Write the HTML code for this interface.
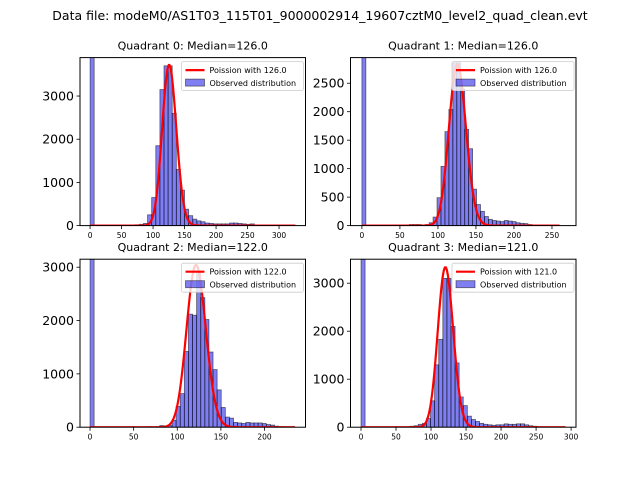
<!DOCTYPE html>
<html><head><meta charset="utf-8"><style>
body{margin:0;background:#fff;}
svg{display:block;font-family:"DejaVu Sans","Liberation Sans",sans-serif;}
</style></head><body>
<svg id="fig" width="640" height="480" viewBox="0 0 640 480" xmlns="http://www.w3.org/2000/svg">
<rect width="640" height="480" fill="#fff"/>
<text x="320" y="20" font-size="12.5" text-anchor="middle">Data file: modeM0/AS1T03_115T01_9000002914_19607cztM0_level2_quad_clean.evt</text>
</svg>
<script>
const titles = ["Quadrant 0: Median=126.0","Quadrant 1: Median=126.0","Quadrant 2: Median=122.0","Quadrant 3: Median=121.0"];
const lambdas = [126,126,122,121];
const peaks = [3720,2830,3040,3330];
const binMax = [326,260,235,292];
const xlims = [[-16,342],[-15,281.6],[-11.5,247],[-15,307]];
const ylims = [3890,2950,3150,3500];
const xticks = [[0,50,100,150,200,250,300],[0,50,100,150,200,250],[0,50,100,150,200],[0,50,100,150,200,250,300]];
const yticks = [[0,1000,2000,3000],[0,500,1000,1500,2000,2500],[0,1000,2000,3000],[0,1000,2000,3000]];
const counts0 = [10000,0,0,0,0,0,0,0,0,0,0,20,30,50,250,650,1850,3150,3700,3700,2600,1300,820,380,230,150,110,90,60,50,40,40,40,40,60,60,50,40,30,40,10,5,5,0,0,0,0,0,0,0];
const counts1 = [10000,0,0,0,0,0,0,0,0,0,0,0,20,20,20,10,20,50,150,490,1040,1650,2040,2860,2860,2400,1690,1350,640,370,250,160,110,90,80,70,90,80,70,50,40,35,20,10,0,0,0,0,0,0];
const counts2 = [10000,0,0,0,0,0,0,0,0,0,0,0,0,0,10,0,10,30,20,30,130,390,630,1420,2120,2100,2900,2430,2020,1410,1080,700,370,190,170,90,80,70,90,80,80,80,70,50,40,20,10,0,0,0];
const counts3 = [10000,0,0,0,0,0,0,0,0,0,0,0,20,30,60,80,180,550,1300,1830,3100,3100,2100,1340,630,450,230,160,120,80,60,50,40,50,50,70,60,60,70,70,50,30,20,0,0,0,0,0,0,0];
const allCounts = [counts0,counts1,counts2,counts3];

const NS="http://www.w3.org/2000/svg";
const svg=document.getElementById('fig');
function mk(tag,attrs,parent){const e=document.createElementNS(NS,tag);for(const k in attrs)e.setAttribute(k,attrs[k]);(parent||svg).appendChild(e);return e;}
const boxes=[[80,57.6,225.5,168],[350.5,57.6,225.5,168],[80,259.2,225.5,168],[350.5,259.2,225.5,168]];
function logGamma(n){let s=0;for(let i=2;i<=n;i++)s+=Math.log(i);return s;}
for(let q=0;q<4;q++){
  const [L,T,W,H]=boxes[q];
  const g=mk('g',{});
  
  
  const [x0,x1]=xlims[q], ymax=ylims[q];
  const sx=v=>L+(v-x0)/(x1-x0)*W;
  const sy=v=>T+H-Math.min(v,ymax*1.01)/ymax*H;
  const cid='clip'+q;
  const cp=mk('clipPath',{id:cid},g);mk('rect',{x:L,y:T,width:W,height:H},cp);
  const pl=mk('g',{'clip-path':'url(#'+cid+')'},g);
  const counts=allCounts[q], bw=binMax[q]/counts.length;
  counts.forEach((c,i)=>{
    if(c<=0)return;
    const r=mk('rect',{x:sx(i*bw),y:sy(c),width:sx((i+1)*bw)-sx(i*bw),height:sy(0)-sy(c),fill:'rgba(0,0,230,0.5)',stroke:'rgba(0,0,0,0.55)','stroke-width':0.8},pl);
    
    
  });
  const lam=lambdas[q], lpk=-lam+lam*Math.log(lam)-logGamma(lam);
  let d='';
  for(let k=0;k<=Math.round(binMax[q]);k++){
    const lp=-lam+k*Math.log(lam)-logGamma(k);
    const v=peaks[q]*Math.exp(lp-lpk);
    d+=(k?'L':'M')+sx(k).toFixed(2)+','+sy(v).toFixed(2);
  }
  const ln=mk('path',{d:d,fill:'none',stroke:'#ff0000','stroke-width':2.2},pl);
  
  
  mk('rect',{x:L,y:T,width:W,height:H,fill:'none',stroke:'#000','stroke-width':1},g);
  xticks[q].forEach(t=>{
    const x=sx(t);
    mk('line',{x1:x,y1:T+H,x2:x,y2:T+H+3.5,stroke:'#000','stroke-width':0.8},g);
    const tx=mk('text',{x:x,y:T+H+12.5,'font-size':7.5,'text-anchor':'middle'},g);tx.textContent=t;
    
    
  });
  yticks[q].forEach(t=>{
    const y=sy(t);
    mk('line',{x1:L,y1:y,x2:L-3.5,y2:y,stroke:'#000','stroke-width':0.8},g);
    const tx=mk('text',{x:L-6,y:y+4.5,'font-size':12.5,'text-anchor':'end'},g);tx.textContent=t;
    
    
  });
  const tt=mk('text',{x:L+W/2,y:T-8,'font-size':11,'text-anchor':'middle'},g);tt.textContent=titles[q];
  
  
  const lg=mk('g',{},g);
  
  
  const lx=L+W-124, ly=T+4;
  mk('rect',{x:lx,y:ly,width:122,height:29,fill:'rgba(255,255,255,0.8)',stroke:'#ccc','stroke-width':0.8,rx:2},lg);
  mk('line',{x1:lx+4,y1:ly+8.5,x2:lx+23,y2:ly+8.5,stroke:'#ff0000','stroke-width':2.2},lg);
  const t1=mk('text',{x:lx+28,y:ly+11.5,'font-size':8},lg);t1.textContent='Poission with '+lam.toFixed(1);
  mk('rect',{x:lx+4,y:ly+17.5,width:19,height:7,fill:'rgba(0,0,230,0.5)',stroke:'rgba(0,0,0,0.55)','stroke-width':0.8},lg);
  const t2=mk('text',{x:lx+28,y:ly+24.5,'font-size':8},lg);t2.textContent='Observed distribution';
}
</script>
</body></html>
